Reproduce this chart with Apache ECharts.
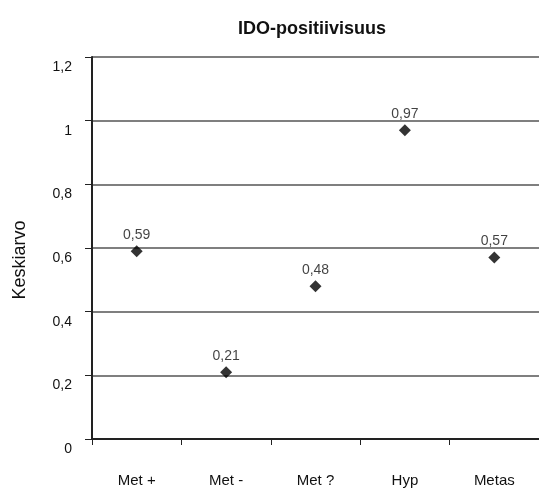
<!DOCTYPE html>
<html>
<head>
<meta charset="utf-8">
<script src="https://cdn.jsdelivr.net/npm/echarts@6/dist/echarts.min.js"></script>
<style>
  html, body { margin: 0; padding: 0; background: #fff; }
  #chart { width: 539px; height: 488px; }
</style>
</head>
<body>
<div id="chart"></div>
<script>
// data
const categories = ['Met +', 'Met -', 'Met ?', 'Hyp', 'Metas']
const means = [0.59, 0.21, 0.48, 0.97, 0.57]
const yTicks = [0, 0.2, 0.4, 0.6, 0.8, 1, 1.2]

const FONT = 'Arial, "Liberation Sans", sans-serif'
const fmt = (v) => String(+v.toFixed(2)).replace('.', ',')

const chart = echarts.init(document.getElementById('chart'))

chart.setOption({
  animation: false,
  backgroundColor: '#fff',
  title: {
    text: 'IDO-positiivisuus',
    left: 307,
    top: 15,
    textAlign: 'center',
    textStyle: { fontFamily: FONT, fontSize: 18, fontWeight: 'bold', color: '#111' },
  },
  grid: { left: 92, width: 450, top: 57, bottom: 45 },
  xAxis: {
    type: 'category',
    data: categories,
    boundaryGap: true,
    axisLine: { lineStyle: { color: '#222', width: 2 } },
    axisTick: { show: true, inside: false, length: 6, lineStyle: { color: '#222', width: 1 } },
    axisLabel: { margin: 34, fontFamily: FONT, fontSize: 15, color: '#111' },
    splitLine: { show: false },
  },
  yAxis: {
    type: 'value',
    min: yTicks[0],
    max: yTicks[yTicks.length - 1],
    interval: 0.2,
    name: 'Keskiarvo',
    nameLocation: 'middle',
    nameGap: 63,
    nameTextStyle: { fontFamily: FONT, fontSize: 18, color: '#111', padding: [0, 24, 0, 0] },
    axisLine: { show: true, lineStyle: { color: '#222', width: 2 } },
    axisTick: { show: true, inside: false, length: 7, lineStyle: { color: '#222', width: 1 } },
    axisLabel: {
      margin: 20,
      fontFamily: FONT,
      fontSize: 14,
      color: '#111',
      verticalAlign: 'top',
      padding: [3, 0, 0, 0],
      formatter: fmt,
    },
    splitLine: { show: true, lineStyle: { color: '#555', width: 1.5 } },
  },
  series: [
    {
      type: 'scatter',
      data: means,
      symbol: 'diamond',
      symbolSize: 12,
      itemStyle: { color: '#000' },
      label: {
        show: true,
        position: 'top',
        distance: 3,
        fontFamily: FONT,
        fontSize: 14,
        color: '#111',
        formatter: (p) => fmt(p.value),
      },
    },
  ],
})
</script>
</body>
</html>
